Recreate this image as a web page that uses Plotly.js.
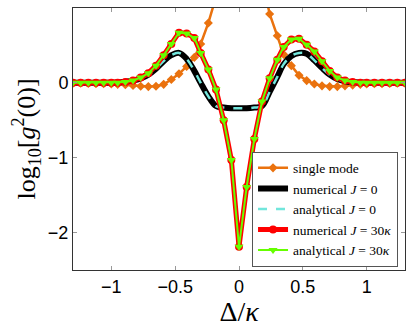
<!DOCTYPE html>
<html>
<head>
<meta charset="utf-8">
<script src="https://cdn.plot.ly/plotly-3.0.1.min.js"></script>
<style>
  html, body { margin: 0; padding: 0; background: #fff; }
  #chart { width: 415px; height: 327px; }
</style>
</head>
<body>
<div id="chart"></div>
<script>
// detuning Delta/kappa (45 samples from -1.3 to 1.3)
var detuning = [-1.30, -1.24, -1.18, -1.12, -1.06, -1.00, -0.95, -0.89, -0.83, -0.77, -0.71,
  -0.65, -0.59, -0.53, -0.47, -0.41, -0.35, -0.30, -0.24, -0.18, -0.12, -0.06, 0,
  0.06, 0.12, 0.18, 0.24, 0.30, 0.35, 0.41, 0.47, 0.53, 0.59, 0.65,
  0.71, 0.77, 0.83, 0.89, 0.95, 1.00, 1.06, 1.12, 1.18, 1.24, 1.30];

// log10 g2(0)
var singleMode = [-0.005, -0.005, -0.008, -0.01, -0.012, -0.015, -0.02, -0.025, -0.035, -0.045, -0.05,
  -0.045, -0.02, 0.045, 0.12, 0.22, 0.34, 0.52, 0.80, 1.15, 1.5, 1.75, 1.85,
  1.75, 1.6, 1.4, 0.92, 0.63, 0.38, 0.23, 0.10, 0.03, -0.015, -0.04,
  -0.05, -0.05, -0.04, -0.03, -0.02, -0.015, -0.012, -0.01, -0.008, -0.005, -0.005];

var numericalJ0 = [0, 0, 0, 0, 0, 0.002, 0.005, 0.015, 0.03, 0.06, 0.11,
  0.19, 0.29, 0.37, 0.40, 0.32, 0.16, 0.0, -0.18, -0.31, -0.33, -0.34, -0.34,
  -0.34, -0.33, -0.31, -0.12, 0.08, 0.25, 0.36, 0.40, 0.39, 0.30, 0.20,
  0.11, 0.05, 0.02, 0.01, 0.005, 0.002, 0, 0, 0, 0, 0];

var analyticalJ0 = numericalJ0.slice();

var numericalJ30 = [0, 0, 0, 0, 0, 0, 0, 0.01, 0.03, 0.07, 0.13,
  0.23, 0.37, 0.52, 0.67, 0.66, 0.60, 0.40, 0.18, -0.09, -0.50, -1.03, -2.19,
  -1.39, -0.75, -0.25, 0.06, 0.31, 0.48, 0.58, 0.59, 0.51, 0.42, 0.29,
  0.16, 0.07, 0.03, 0.01, 0, 0, 0, 0, 0, 0, 0];

var analyticalJ30 = numericalJ30.slice();

var serif = "Liberation Serif, DejaVu Serif, serif";
var sans = "Liberation Sans, Arial, sans-serif";

var traces = [
  {
    x: detuning, y: singleMode, name: "single mode", mode: "lines+markers",
    line: {color: "#ea720e", width: 2.5},
    marker: {symbol: "diamond", size: 7, color: "#ea720e"}
  },
  {
    x: detuning, y: numericalJ0, name: "numerical <i>J</i> = 0", mode: "lines",
    line: {color: "#000000", width: 6, shape: "spline"}
  },
  {
    x: detuning, y: analyticalJ0, name: "analytical <i>J</i> = 0", mode: "lines",
    line: {color: "#72e6dc", width: 2.5, dash: "dash", shape: "spline"}
  },
  {
    x: detuning, y: numericalJ30, name: "numerical <i>J</i> = 30<i>κ</i>", mode: "lines+markers",
    line: {color: "#ff0000", width: 5},
    marker: {symbol: "circle", size: 8, color: "#ff0000"}
  },
  {
    x: detuning, y: analyticalJ30, name: "analytical <i>J</i> = 30<i>κ</i>", mode: "lines+markers",
    line: {color: "#66ff00", width: 2},
    marker: {symbol: "triangle-down", size: 8, color: "#66ff00"}
  }
];

var layout = {
  width: 415, height: 327,
  margin: {l: 73, r: 10, t: 8, b: 57},
  paper_bgcolor: "#fff", plot_bgcolor: "#fff",
  showlegend: true,
  legend: {
    x: 0.979, y: 0.013, xanchor: "right", yanchor: "bottom",
    bgcolor: "#fff", bordercolor: "#555", borderwidth: 1,
    font: {family: serif, size: 13.5, color: "#000"},
    itemwidth: 30, tracegroupgap: 0
  },
  xaxis: {
    range: [-1.3, 1.3],
    tickvals: [-1, -0.5, 0, 0.5, 1],
    ticktext: ["\u22121", "\u22120.5", "0", "0.5", "1"],
    ticks: "inside", ticklen: 4, tickcolor: "#999",
    showline: true, linecolor: "#333", linewidth: 1, mirror: "ticks",
    showgrid: false, zeroline: false,
    tickfont: {family: sans, size: 18, color: "#000"},
    title: {text: "Δ/<i>κ</i>", font: {family: serif, size: 28, color: "#000"}, standoff: 2}
  },
  yaxis: {
    range: [-2.5, 1],
    tickvals: [-2, -1, 0, 1],
    ticktext: ["\u22122", "\u22121", "0", "1"],
    ticks: "inside", ticklen: 4, tickcolor: "#999",
    showline: true, linecolor: "#333", linewidth: 1, mirror: "ticks",
    showgrid: false, zeroline: false,
    tickfont: {family: sans, size: 18, color: "#000"},
    title: {text: "log<sub>10</sub>[<i>g</i><sup>2</sup>(0)]", font: {family: serif, size: 26, color: "#000"}, standoff: 4}
  }
};

Plotly.newPlot("chart", traces, layout, {displayModeBar: false, staticPlot: true});
</script>
</body>
</html>
